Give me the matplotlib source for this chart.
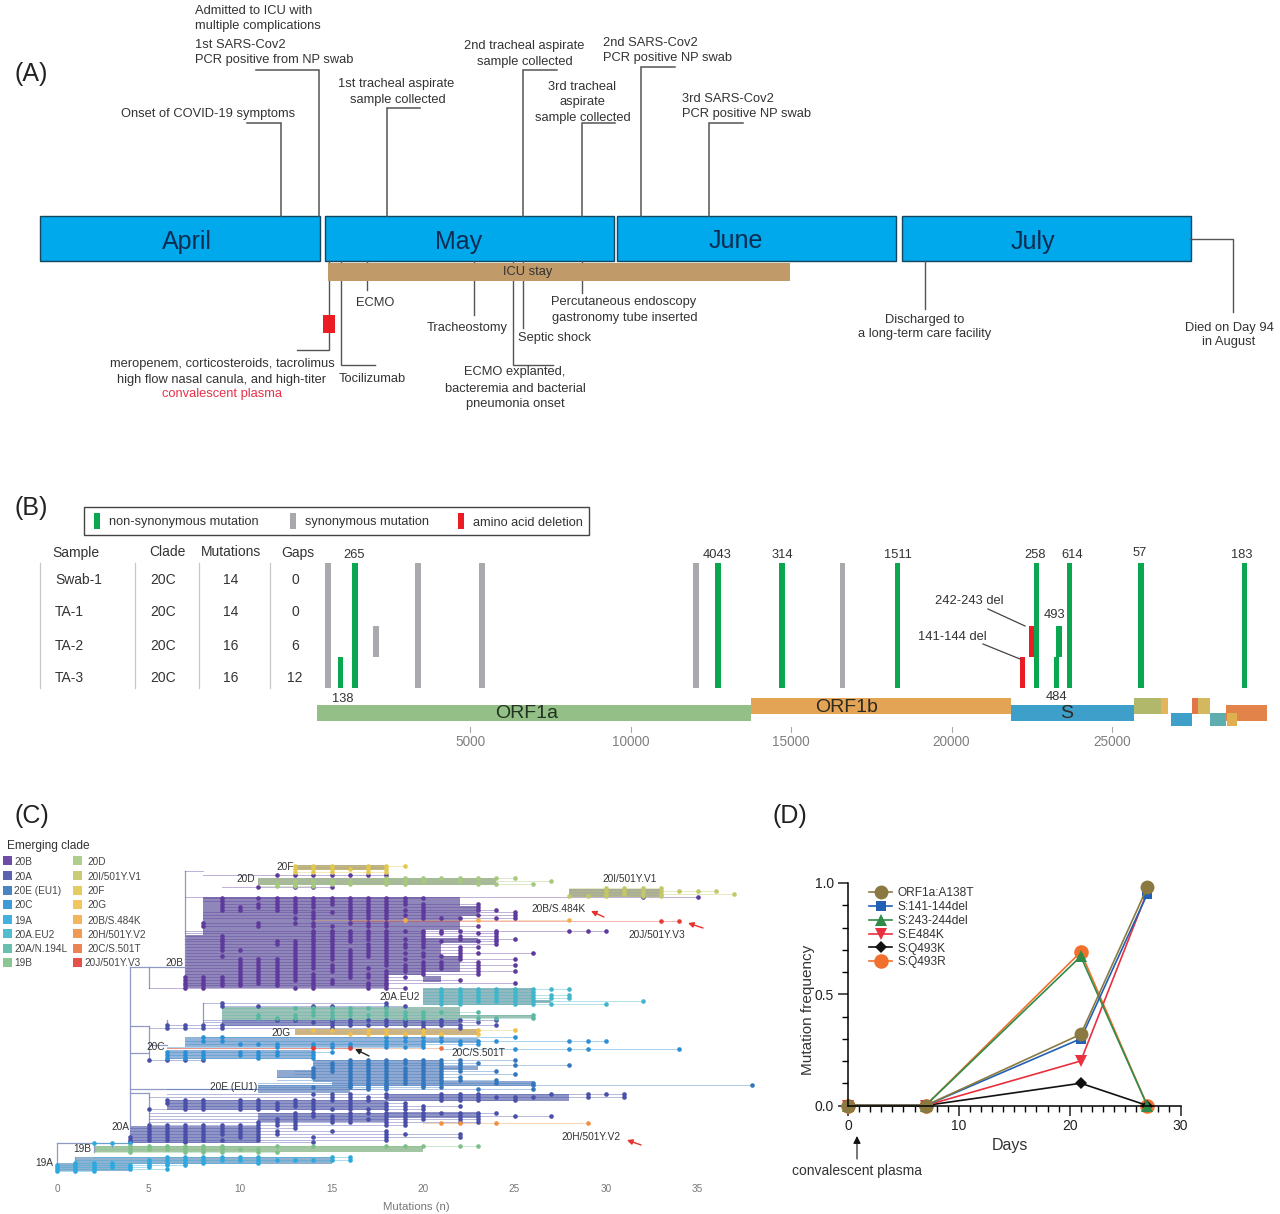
import matplotlib
matplotlib.use("Agg")
import matplotlib.pyplot as plt
from matplotlib.patches import Rectangle

plt.rcParams['font.family'] = ['Liberation Sans', 'DejaVu Sans']

# ---------- panel A data (days since 1 April) ----------
months = ["April", "May", "June", "July"]
month_start = [0, 30.5, 61.8, 92.4]
month_days = [30, 31, 30, 31]
icu_stay = (30.9, 80.4)
plasma_day = 31.0

# day, how far up the line goes, length of the little shelf
events_up = [(25.8, 123, -34), (29.9, 70, -63), (37.2, 108, 33), (51.8, 70, 34),
             (58.1, 123, 33), (64.4, 67, 34), (71.7, 123, 34)]
# day, how far down the line goes, length of the little shelf
events_down = [(31.0, 350, -32), (32.3, 365, 34), (35.0, 290, 0), (46.5, 315, 0),
               (50.7, 365, 40), (51.8, 328, 0), (58.1, 293, 0), (94.9, 309, 0)]

text_a = [
    ("Onset of COVID-19 symptoms", 121, 113, "left"),
    ("Admitted to ICU with", 195, 9, "left"), ("multiple complications", 195, 24, "left"),
    ("1st SARS-Cov2", 195, 43, "left"), ("PCR positive from NP swab", 195, 58, "left"),
    ("1st tracheal aspirate", 396, 82, "center"), ("sample collected", 398, 98, "center"),
    ("2nd tracheal aspirate", 524, 45, "center"), ("sample collected", 525, 61, "center"),
    ("3rd tracheal", 582, 85, "center"), ("aspirate", 582, 101, "center"),
    ("sample collected", 583, 116, "center"),
    ("2nd SARS-Cov2", 603, 41, "left"), ("PCR positive NP swab", 603, 57, "left"),
    ("3rd SARS-Cov2", 682, 97, "left"), ("PCR positive NP swab", 682, 113, "left"),
    ("ECMO", 375, 302, "center"), ("Tracheostomy", 467, 326, "center"),
    ("Septic shock", 555, 337, "center"),
    ("Percutaneous endoscopy", 624, 300, "center"), ("gastronomy tube inserted", 625, 316, "center"),
    ("Discharged to", 925, 318, "center"), ("a long-term care facility", 925, 333, "center"),
    ("Died on Day 94", 1229, 326, "center"), ("in August", 1229, 341, "center"),
    ("meropenem, corticosteroids, tacrolimus", 222, 362, "center"),
    ("high flow nasal canula, and high-titer", 222, 378, "center"),
    ("Tocilizumab", 372, 377, "center"),
    ("ECMO explanted,", 515, 371, "center"), ("bacteremia and bacterial", 515, 387, "center"),
    ("pneumonia onset", 515, 402, "center"),
]

# ---------- panel B data (genome position) ----------
samples = ["Swab-1", "TA-1", "TA-2", "TA-3"]
sample_clade = ["20C", "20C", "20C", "20C"]
sample_mutations = [14, 14, 16, 16]
sample_gaps = [0, 0, 6, 12]

# position, first row, last row
nonsyn = [(960, 3, 4), (1400, 0, 4), (12715, 0, 4), (14710, 0, 4), (18320, 0, 4), (22655, 0, 4),
          (23350, 2, 3), (23260, 3, 4), (23680, 0, 4), (25900, 0, 4), (29140, 0, 4)]
syn = [(560, 0, 4), (2060, 2, 3), (3367, 0, 4), (5360, 0, 4), (12030, 0, 4), (16590, 0, 4)]
deletions = [(22200, 3, 4), (22490, 2, 3)]

gene_names = ["ORF1a", "ORF1b", "S", "ORF3a", "E", "M", "ORF6", "ORF7a", "ORF8", "N", "ORF10"]
gene_start = [218, 13750, 21860, 25700, 26540, 26850, 27500, 27690, 28060, 28560, 28590]
gene_end = [13750, 21860, 25700, 26540, 26750, 27500, 27690, 28060, 28560, 29840, 28900]
genome_ticks = [5000, 10000, 15000, 20000, 25000]

# ---------- panel C data ----------
clade_names = ["20B", "20A", "20E (EU1)", "20C", "19A", "20A.EU2", "20A/N.194L", "19B",
               "20D", "20I/501Y.V1", "20F", "20G", "20B/S.484K", "20H/501Y.V2", "20C/S.501T", "20J/501Y.V3"]
clade_colors = ["#5d3a9b", "#4a50a8", "#3577bd", "#2a8fd4", "#2ea9dd", "#3fb6c9", "#58b8a2", "#7fc08a",
                "#a6c97e", "#c2c768", "#e2c84e", "#f0c04c", "#f0ae4c", "#ee9040", "#ec7440", "#e63c36"]
block_colors = {"20B": "#8f86ba", "20A": "#8f95c6", "20E (EU1)": "#8fa8d2", "20C": "#93b4d8", "19A": "#8eb2d0",
                "20A.EU2": "#93b8bd", "20A/N.194L": "#9cc2b8", "19B": "#a2c6a2", "20D": "#a8b89c",
                "20I/501Y.V1": "#a9ad9a", "20F": "#b9b08a", "20G": "#c9b48a"}

# clade, mutations from, mutations to, row from, row to
tree_blocks = [
    ("20B", 8, 20, 897, 935), ("20B", 7, 20, 935, 975), ("20B", 7, 18, 975, 988),
    ("20B", 20, 23, 906, 916), ("20B", 20, 23, 938, 943), ("20B", 20, 22, 956, 972), ("20B", 20, 21, 976, 982),
    ("20B", 20, 22, 897, 906), ("20B", 20, 22, 916, 930), ("20B", 20, 21, 943, 956),
    ("20F", 13, 18, 865, 870), ("20D", 11, 24, 878, 885), ("20I/501Y.V1", 28, 33, 889, 897),
    ("20A.EU2", 20, 26, 988, 1005), ("20A.EU2", 26, 27, 1000, 1003),
    ("20A/N.194L", 9, 22, 1007, 1020), ("20A/N.194L", 22, 26, 1015, 1018),
    ("20A", 9, 22, 1020, 1026), ("20G", 13, 23, 1029, 1035),
    ("20C", 7, 20, 1037, 1047), ("20C", 6, 14, 1050, 1059), ("20C", 20, 23, 1038, 1043),
    ("20E (EU1)", 14, 21, 1060, 1082), ("20E (EU1)", 16, 23, 1066, 1070), ("20E (EU1)", 15, 26, 1081, 1086),
    ("20E (EU1)", 11, 16, 1085, 1093), ("20E (EU1)", 12, 14, 1070, 1078),
    ("20A", 6, 18, 1100, 1110), ("20A", 18, 28, 1094, 1101), ("20A", 18, 23, 1112, 1118),
    ("20A", 4, 11, 1126, 1143), ("20A", 11, 18, 1113, 1122),
    ("19B", 2, 20, 1146, 1152), ("19A", 0, 4, 1163, 1171), ("19A", 1, 15, 1157, 1164),
]

# row, where the branch starts, mutation counts of the tips
rows_20B = [
    (871, 7, []), (875, 8, [12, 13, 14, 15, 16, 17, 18]), (887, 9, [11, 13, 14, 15]), (897, 7, [32, 35]),
    (898, 8, [9, 11, 12, 13, 14, 15, 16, 17, 18, 19, 20]), (901, 8, [9, 12, 13, 14, 15, 16, 17, 18, 19]),
    (904, 9, [9, 11, 12, 13, 14, 15, 16, 17, 18, 19, 20, 23]), (907, 9, [9, 10, 11, 12, 13, 14, 16, 17, 18, 20, 23]),
    (910, 9, [9, 10, 12, 13, 16, 17, 18, 19, 20, 23, 24]), (912, 8, [13, 14, 15, 16, 17, 18, 20, 25]),
    (915, 8, [14, 16, 17, 18, 19, 20, 23, 25]), (918, 8, [13, 14, 16, 17, 18, 20, 21, 22, 24, 25]),
    (923, 8, [8, 11, 13, 14, 16, 17, 18]), (926, 8, [8, 11, 14, 15, 17, 18, 23]),
    (931, 7, [14, 15, 16, 17, 18, 19, 20, 21, 22, 24, 28, 29, 30]), (933, 7, [14, 15, 16, 17, 18, 20, 21, 23, 24]),
    (936, 7, [9, 14, 15, 16, 17, 18, 20, 22, 24]), (939, 7, [9, 14, 15, 16, 17, 18, 19, 20, 22, 24, 25]),
    (941, 7, [9, 12, 13, 14, 15, 16, 18, 20, 21, 23, 24]), (944, 7, [9, 12, 13, 14, 15, 17, 18, 19, 20, 24]),
    (947, 7, [9, 13, 14, 15, 17, 18, 19, 20, 22, 23]), (950, 7, [9, 10, 13, 14, 15, 16, 17, 18, 22]),
    (953, 7, [13, 14, 15, 16, 17, 18, 19, 20, 22, 23, 26]), (956, 7, [9, 13, 14, 15, 16, 17, 18, 20, 21, 22]),
    (959, 7, [10, 11, 12, 13, 14, 15, 16, 18, 19, 22, 25]), (962, 7, [10, 11, 12, 13, 14, 16, 18, 20, 21, 23]),
    (965, 7, [10, 11, 12, 13, 14, 15, 16, 18, 19, 20, 21, 23, 25]), (968, 7, [10, 11, 12, 13, 14, 15, 16, 17, 19, 20, 21, 23]),
    (971, 7, [10, 11, 12, 13, 15, 16, 18, 19, 20, 23, 25]), (974, 7, [10, 11, 12, 13, 14, 16, 17, 18, 20, 23]),
    (977, 7, [7, 8, 9, 10, 11, 12, 13, 14, 16, 17, 18, 19]), (980, 7, [7, 8, 9, 10, 11, 12, 13, 14, 15, 18, 22]),
    (983, 7, [7, 8, 9, 10, 11, 12, 14, 15, 17, 18, 25]), (985, 7, [7, 8, 9, 10, 12, 14, 17, 18]),
    (988, 5, [7, 8, 13, 14, 17, 18, 19]),
]
rows_20A = [
    (1003, 8, [9, 18]), (1006, 9, [9, 11, 14, 15, 18, 19]), (1020, 8, [12, 13, 15, 16, 17, 18, 19, 21, 22, 24]),
    (1022, 8, [14, 15, 16, 18, 19, 20, 21, 23]), (1025, 6, [6, 7, 8, 9, 15, 16, 17, 18, 19, 20, 21, 22, 24]),
    (1028, 5, [6, 7, 8, 9, 15, 20, 22]), (1060, 5, [5, 6, 7, 8]),
    (1094, 6, [14, 15, 16, 18, 21, 22, 23, 27, 29, 30, 31]), (1097, 5, [15, 16, 17, 18, 21, 22, 23, 24, 25, 26, 29, 31]),
    (1100, 6, [6, 7, 8, 10, 11, 13, 14, 15, 16, 17, 21, 22, 23, 25]), (1103, 6, [6, 7, 8, 10, 11, 12, 13, 14, 16, 18, 19]),
    (1106, 6, [7, 8, 10, 11, 12, 13, 14, 16, 18, 19, 20, 22]), (1109, 5, [5, 7, 8, 10, 11, 12, 14, 15, 16, 17, 18, 19, 20]),
    (1113, 5, [13, 14, 16, 17, 18, 19, 20, 21, 22, 23, 24]), (1116, 5, [13, 14, 15, 16, 18, 19, 20, 22, 23, 25, 27]),
    (1119, 5, [12, 13, 15, 16, 17, 18, 19, 20, 22, 23]), (1122, 5, [11, 12, 13, 15, 16, 18, 19, 22, 23]),
    (1125, 5, [5, 6, 7, 8, 9, 10, 11, 12, 13, 18, 19]), (1128, 4, [5, 6, 7, 8, 9, 10, 11, 13]),
    (1131, 4, [5, 6, 7, 8, 9, 10, 11, 12, 15, 18]), (1134, 4, [5, 6, 7, 8, 9, 10, 11, 12, 18, 19, 22]),
    (1137, 4, [4, 5, 6, 7, 8, 10, 11, 14, 18, 22]), (1140, 4, [4, 5, 6, 7, 8, 9, 11, 18]), (1142, 4, [4, 7, 14]),
]
rows_20E = [
    (1060, 14, [16, 17, 18, 19, 20, 21, 22, 25]), (1063, 14, [15, 16, 17, 18, 19, 20, 21, 22, 23]),
    (1065, 14, [15, 16, 17, 18, 20, 21, 22, 25, 28]), (1068, 14, [14, 15, 16, 17, 18, 19, 20, 21, 22]),
    (1071, 13, [14, 15, 16, 17, 18, 19, 20, 21, 22, 24]), (1074, 13, [14, 16, 17, 18, 19, 20, 21, 25]),
    (1077, 12, [14, 16, 17, 18, 19, 20, 21, 22]), (1080, 12, [16, 17, 18, 19, 20, 21, 22, 24]),
    (1083, 11, [16, 17, 18, 19, 20, 21, 24, 26]), (1085, 11, [16, 17, 18, 20, 26, 38]),
    (1087, 11, [14, 16, 17, 18, 20, 21]), (1089, 6, [17, 18, 23, 26]),
]
rows_20C = [
    (1037, 8, [8, 9, 18, 19, 20, 21, 25]), (1041, 7, [8, 9, 18, 19, 20, 21, 22, 23, 24, 28, 29, 30]),
    (1044, 7, [10, 11, 12, 14, 15, 16, 18, 20, 22, 23]), (1047, 6, [12, 14, 15, 16, 18, 19, 20]),
    (1049, 21, [25, 28, 29, 34]), (1052, 6, [6, 7, 8, 10, 11, 12, 14, 15]), (1055, 6, [6, 7, 8, 10, 11, 12, 14]),
    (1058, 6, [6, 7, 8, 11, 14]),
]
rows_19A = [
    (1143, 2, [2, 3, 4]), (1157, 2, [6, 7, 8, 9, 10, 11, 15, 16]), (1160, 1, [5, 6, 7, 8, 9, 10, 11, 12, 13, 14, 15, 16]),
    (1163, 1, [1, 2, 3, 5, 6, 7, 8, 11]), (1165, 0, [0, 1, 2, 3, 4, 5, 6, 7]), (1167, 0, [0, 1, 2, 3, 4, 5]),
    (1169, 0, [0, 1, 2, 4, 6]), (1171, 0, [0, 1, 2]),
]
rows_eu2 = [
    (989, 20, [21, 22, 23, 24, 25, 26, 27, 28]), (992, 20, [21, 22, 23, 24, 25, 26]),
    (995, 20, [21, 22, 23, 24, 25, 26, 27, 28]), (998, 20, [21, 22, 23, 24, 25, 26, 27, 28]),
    (1001, 20, [21, 22, 23, 24, 25, 26, 32]), (1004, 20, [21, 22, 25, 26, 27, 30]),
]
rows_n194l = [
    (1008, 9, [13, 14, 15, 16, 17, 18]), (1012, 9, [14, 15, 16, 18, 19, 20, 21, 23]),
    (1015, 9, [11, 13, 14, 15, 16, 17, 18, 19, 20, 26]), (1018, 9, [11, 12, 13, 15, 19, 20, 23, 24, 26]),
]
rows_19b = [
    (1146, 2, [4, 5, 6, 7, 8, 9, 12, 14, 18, 19, 20, 22, 23]), (1149, 2, [4, 5, 6, 7, 8, 9, 10, 11]),
    (1152, 2, [4, 7, 8, 9, 11, 12]),
]
rows_20D = [
    (878, 17, [18, 19, 20, 21, 22, 23, 24, 25]), (881, 11, [13, 14, 15, 16, 18, 19, 20, 22, 27]),
    (884, 11, [12, 13, 15, 16, 18, 19, 23, 24, 26]), (886, 11, [12, 13, 14]),
]
rows_20I = [
    (888, 28, [30, 31, 32, 33]), (891, 28, [30, 31, 32, 33, 34, 35, 36]), (894, 28, [30, 31, 32, 33, 37]),
    (896, 28, [28, 29, 30, 32, 33]),
]
rows_20F = [(866, 13, [13, 14, 15, 17, 18, 19]), (869, 13, [13, 14, 15, 16, 17, 18]), (872, 13, [13, 14, 15, 17, 18])]
rows_20G = [(1030, 13, [14, 15, 17, 18, 20, 23, 25]), (1034, 13, [16, 17, 18, 19, 20, 21, 23])]
rows_484k = [(920, 14, [19, 23, 28])]
rows_v2 = [(1123, 20, [21, 22, 24, 29])]
rows_501t = [(1048, 6, [21])]
rows_v3 = [(921, 16, [33, 34]), (1047.5, 6, [14, 16])]

tree_rows = [("20B", rows_20B), ("20A", rows_20A), ("20E (EU1)", rows_20E), ("20C", rows_20C), ("19A", rows_19A),
             ("20A.EU2", rows_eu2), ("20A/N.194L", rows_n194l), ("19B", rows_19b), ("20D", rows_20D),
             ("20I/501Y.V1", rows_20I), ("20F", rows_20F), ("20G", rows_20G), ("20B/S.484K", rows_484k),
             ("20H/501Y.V2", rows_v2), ("20C/S.501T", rows_501t), ("20J/501Y.V3", rows_v3)]

# the trunk of the tree: mutations, row from, row to
tree_trunk = [(0, 1143, 1171), (1, 1157, 1165), (2, 1143, 1152), (4, 967, 1143), (5, 967, 988), (5, 1026, 1060),
              (7, 871, 988), (8, 1003, 1022), (6, 1020, 1028), (3, 1143, 1147), (5, 1093, 1125)]
tree_links = [(0, 4, 1143), (4, 5, 967), (5, 7, 967), (4, 5, 1026), (5, 6, 1045), (4, 17, 1089), (4, 5, 1093), (4, 5, 1053)]
mutation_ticks = [0, 5, 10, 15, 20, 25, 30, 35]

clade_labels = [("19A", 44, 1162), ("19B", 82, 1147), ("20A", 120, 1125), ("20B", 174, 961), ("20C", 156, 1046),
                ("20D", 246, 878), ("20E (EU1)", 234, 1085), ("20F", 285, 865), ("20G", 281, 1031),
                ("20A.EU2", 400, 995), ("20I/501Y.V1", 630, 878), ("20B/S.484K", 559, 907),
                ("20J/501Y.V3", 657, 933), ("20C/S.501T", 478, 1052), ("20H/501Y.V2", 591, 1135)]
# head x, head y, tail x, tail y, colour
pointers = [(591, 911, 604, 917, "#e8302c"), (688, 923, 703, 928, "#e8302c"), (627, 1140, 641, 1145, "#e8302c"),
            (355, 1049, 369, 1056, "#222222")]

# ---------- panel D data ----------
days = [0, 7, 21, 27]
a138t = [0, 0, 0.32, 0.98]
del141 = [0, 0, 0.30, 0.95]
del243 = [0, 0, 0.67, 0]
e484k = [0, 0, 0.20, 0.96]
q493k = [0, 0, 0.10, 0]
q493r = [0, 0, 0.69, 0]
freq_names = ["ORF1a:A138T", "S:141-144del", "S:243-244del", "S:E484K", "S:Q493K", "S:Q493R"]
freq_values = [a138t, del141, del243, e484k, q493k, q493r]
freq_colors = ["#8a7a42", "#2160b4", "#2f8c48", "#ea2f3e", "#111111", "#f2702e"]
freq_markers = ["o", "s", "^", "v", "D", "o"]
freq_sizes = [10, 7.5, 8, 8, 6, 10.5]

W, H = 1280, 1214
fig = plt.figure(figsize=(W / 100, H / 100), dpi=100)


def layer(x0, x1):
    # axes over the whole figure, y in figure pixels, x in whatever unit the panel uses
    ax = fig.add_axes([0, 0, 1, 1])
    ax.set_xlim(x0, x1)
    ax.set_ylim(H, 0)
    ax.axis("off")
    ax.patch.set_alpha(0)
    return ax


ov = layer(0, W)
ov.set_zorder(10)
TXT = "#333333"


def put(x, y, s, **kw):
    # text sits about a pixel and a half higher than asked, put it back
    return ov.text(x, y + 1.5, s, va="center", **kw)


for lab, x, y in [("(A)", 14, 73), ("(B)", 14, 506), ("(C)", 14, 814), ("(D)", 772, 814)]:
    put(x, y, lab, fontsize=18, color="#222222")

# ---------- A ----------
DAY = 9.33
axa = layer(-40 / DAY, (W - 40) / DAY)
for m, s, d, cx in zip(months, month_start, month_days, [187, 459, 736, 1033]):
    axa.add_patch(Rectangle((s, 216), d, 44.5, fc="#00a8ec", ec="#14465f", lw=1))
    put(cx, 240, m, fontsize=18, color="#0d2c52", ha="center")
LINE = "#555555"
for d, y, shelf in events_up:
    axa.plot([d, d, d + shelf / DAY], [216, y, y], color=LINE, lw=1.1, solid_joinstyle="miter")
for d, y, shelf in events_down:
    axa.plot([d, d, d + shelf / DAY], [261, y, y], color=LINE, lw=1, solid_joinstyle="miter")
axa.plot([123.3, 127.9, 127.9], [239, 239, 312], color=LINE, lw=1, solid_joinstyle="miter")
axa.add_patch(Rectangle((icu_stay[0], 263), icu_stay[1] - icu_stay[0], 18, fc="#c09a68", ec="none", zorder=3))
axa.add_patch(Rectangle((plasma_day - 0.65, 315), 1.3, 18, fc="#ec1c24", ec="none", zorder=3))
for s, x, y, ha in text_a:
    put(x, y, s, fontsize=9.3, color=TXT, ha=ha)
put(528, 271, "ICU stay", fontsize=9.3, color=TXT, ha="center")
put(222, 393, "convalescent plasma", fontsize=9.3, color="#e8304a", ha="center")

# ---------- B ----------
BP = 0.03208
axb = layer(-310 / BP, (W - 310) / BP)
ROW_TOP, ROW_H = 563, 31.25
ov.add_patch(Rectangle((84, 507), 505, 28, fc="none", ec="#444444", lw=1))
for x, c, lab, tx in [(94, "#0aa650", "non-synonymous mutation", 109), (290, "#a8a8ac", "synonymous mutation", 305),
                      (458, "#ec1c24", "amino acid deletion", 473)]:
    ov.add_patch(Rectangle((x, 513), 6, 16, fc=c, ec="none"))
    put(tx, 521, lab, fontsize=9.2, color=TXT)
for lab, x in [("Sample", 52), ("Clade", 149), ("Mutations", 201), ("Gaps", 281)]:
    put(x, 551, lab, fontsize=10, color=TXT)
for x in [40, 135, 199, 270]:
    ov.plot([x, x], [563, 688], color="#c8c8c8", lw=0.9)
for i, (n, c, m, g) in enumerate(zip(samples, sample_clade, sample_mutations, sample_gaps)):
    y = 578 + i * 33
    put(55, y, n, fontsize=10, color=TXT)
    put(150, y, c, fontsize=10, color=TXT)
    put(231, y, str(m), fontsize=10, color=TXT, ha="center")
    put(295, y, str(g), fontsize=10, color=TXT, ha="center")
for group, col in [(syn, "#a9a9ae"), (nonsyn, "#0aa650"), (deletions, "#ec1c24")]:
    for pos, r0, r1 in group:
        axb.bar(pos, (r1 - r0) * ROW_H, width=165, bottom=ROW_TOP + r0 * ROW_H, color=col, lw=0)
for s, x, y in [("265", 354, 553), ("4043", 717, 553), ("314", 782, 553), ("1511", 898, 553), ("258", 1035, 553),
                ("614", 1072, 553), ("57", 1140, 552), ("183", 1242, 553), ("138", 343, 697), ("484", 1057, 695),
                ("493", 1055, 614), ("242-243 del", 969, 600), ("141-144 del", 952, 636)]:
    put(x, y, s, fontsize=9.3, color=TXT, ha="center")
ov.plot([988, 1025], [609, 626], color="#444444", lw=0.9)
ov.plot([983, 1020], [644, 659], color="#444444", lw=0.9)
gene_colors = ["#94bf86", "#e3a455", "#3f9fcb", "#b1b86c", "#e2b45c", "#3f9fcb", "#e2744a", "#d3b860", "#5eaeb0", "#e2844a", "#e0b050"]
gene_y = [705, 698, 705, 698, 698, 713, 698, 698, 713, 705, 713]
gene_h = [16, 16, 16, 16, 16, 13, 16, 16, 13, 16, 13]
for s, e, c, y, h in zip(gene_start, gene_end, gene_colors, gene_y, gene_h):
    axb.add_patch(Rectangle((s, y), e - s, h, fc=c, ec="none"))
for name, x, y in [("ORF1a", 527, 713), ("ORF1b", 847, 707), ("S", 1067, 713)]:
    put(x, y - 1, name, fontsize=14, color="#1f3320" if name == "ORF1a" else "#2d2a22", ha="center")
for t in genome_ticks:
    axb.plot([t, t], [727, 732], color="#aaaaaa", lw=0.8)
    axb.text(t, 741.5, str(t), fontsize=9.8, color="#808080", ha="center", va="center")

# ---------- C ----------
MUT = 18.3
axc = layer(-57 / MUT, (W - 57) / MUT)
cols = dict(zip(clade_names, clade_colors))
for name, x0, x1, y0, y1 in tree_blocks:
    axc.add_patch(Rectangle((x0, y0), x1 - x0, y1 - y0, fc=block_colors[name], ec="none", zorder=1))
TRUNK = "#8f9ac4"
for x, y0, y1 in tree_trunk:
    axc.plot([x, x], [y0, y1], color=TRUNK, lw=0.9, zorder=2)
for x0, x1, y in tree_links:
    axc.plot([x0, x1], [y, y], color=TRUNK, lw=0.9, zorder=2)
for name, rows in tree_rows:
    col = cols[name]
    for y, start, tips in rows:
        end = tips[-1] if tips else start + 1
        axc.plot([start, end], [y, y], color=col, lw=0.7, alpha=0.4, zorder=3)
        axc.scatter(tips, [y] * len(tips), s=11, color=col, lw=0, zorder=4)
for t in mutation_ticks:
    axc.text(t, 1189.5, str(t), fontsize=7.2, color="#777777", ha="center", va="center")
put(416, 1206, "Mutations (n)", fontsize=8.2, color="#777777", ha="center")
put(7, 844, "Emerging clade", fontsize=8.6, color=TXT)
leg_y = [860.5, 875, 890, 904, 919, 933, 948, 962]
for i, (name, col) in enumerate(zip(clade_names, clade_colors)):
    k = i % 8
    x = 3 if i < 8 else 73
    ov.add_patch(Rectangle((x, leg_y[k] - 4.5), 9, 9, fc=col, ec="none", alpha=0.9))
    put((14 if i < 8 else 87) if i != 15 else 84, leg_y[k], name, fontsize=7.2, color="#444444")
for s, x, y in clade_labels:
    put(x, y, s, fontsize=7.3, color="#333333", ha="center")
for hx, hy, tx, ty, c in pointers:
    ov.annotate("", xy=(hx, hy), xytext=(tx, ty),
                arrowprops=dict(arrowstyle="-|>", color=c, lw=1, mutation_scale=8, shrinkA=0, shrinkB=0))

# ---------- D ----------
axd = fig.add_axes([848 / W, 1 - 1105.5 / H, (1180.5 - 848) / W, (1105.5 - 883) / H])
handles = {}
for name, vals, col, mk, ms in list(zip(freq_names, freq_values, freq_colors, freq_markers, freq_sizes))[::-1]:
    handles[name] = axd.plot(days, vals, color=col, marker=mk, ms=ms, mew=0, lw=1.2, clip_on=False, label=name)[0]
axd.set_xlim(0, 30)
axd.set_ylim(0, 1)
axd.patch.set_alpha(0)
for s in ["top", "right"]:
    axd.spines[s].set_visible(False)
for s in ["left", "bottom"]:
    axd.spines[s].set_linewidth(1.1)
axd.set_xticks([0, 10, 20, 30])
axd.set_yticks([0, 0.5, 1.0], ["0.0", "0.5", "1.0"])
axd.set_xticks(range(0, 31), minor=True)
axd.set_yticks([0.1 * i for i in range(11)], minor=True)
axd.tick_params(which="major", length=7, width=1.1, labelsize=10, colors="#222222", pad=3)
axd.tick_params(which="minor", length=4, width=1)
axd.legend([handles[n] for n in freq_names], freq_names, loc="upper left", bbox_to_anchor=(0.046, 1.007), frameon=False,
           fontsize=8.6, labelspacing=0.15, handlelength=1.9, handletextpad=0.5, borderpad=0, labelcolor=TXT)
put(1010, 1144, "Days", fontsize=11.5, color=TXT, ha="center")
ov.text(808, 1010, "Mutation frequency", fontsize=11, color=TXT, rotation=90, ha="center", va="center")
ov.annotate("", xy=(857, 1136), xytext=(857, 1159),
            arrowprops=dict(arrowstyle="-|>", color="#111111", lw=0.8, mutation_scale=11, shrinkA=0, shrinkB=0))
put(857, 1169, "convalescent plasma", fontsize=10, color=TXT, ha="center")

fig.savefig("out.png", dpi=100)
